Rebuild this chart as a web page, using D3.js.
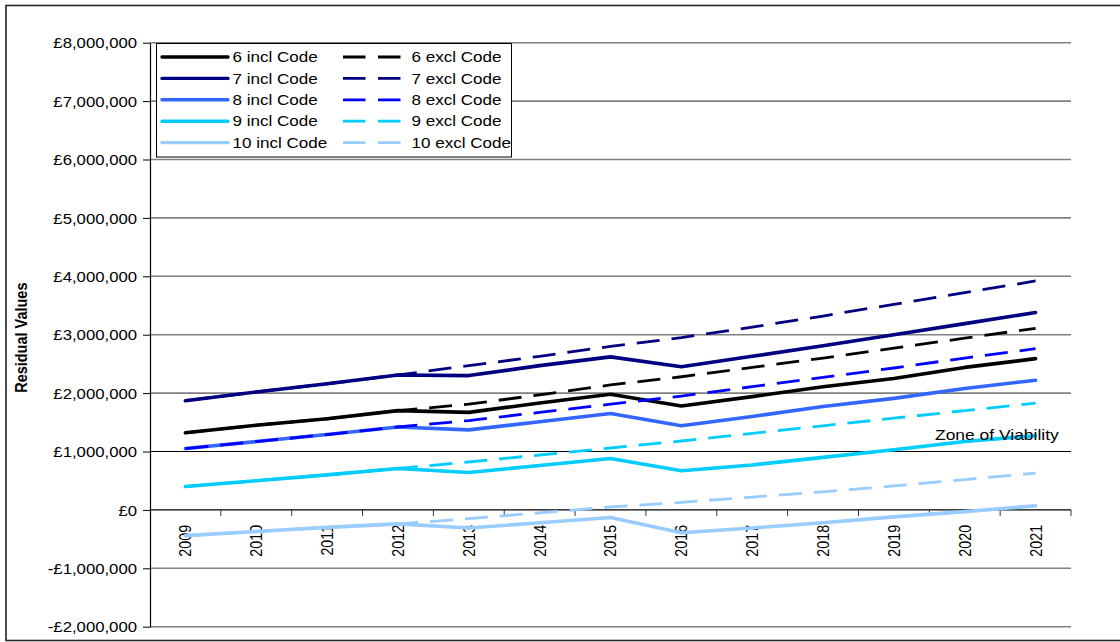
<!DOCTYPE html>
<html>
<head>
<meta charset="utf-8">
<script src="https://cdn.jsdelivr.net/npm/d3@7"></script>
<style>
  html, body { margin: 0; padding: 0; background: #fff; }
  svg { display: block; }
  text { font-family: "Liberation Sans", Arial, sans-serif; fill: #000; }
</style>
</head>
<body>
<svg id="chart" width="1120" height="642"></svg>
<script>
// Years on the x axis
const years = ["2009","2010","2011","2012","2013","2014","2015","2016","2017","2018","2019","2020","2021"];

// Residual values (£) per scheme, including and excluding the Code
const incl6  = [1320000, 1450000, 1560000, 1700000, 1670000, 1830000, 1980000, 1780000, 1940000, 2110000, 2250000, 2440000, 2590000];
const excl6  = [1320000, 1450000, 1560000, 1700000, 1810000, 1970000, 2140000, 2280000, 2440000, 2600000, 2770000, 2940000, 3110000];
const incl7  = [1870000, 2020000, 2160000, 2310000, 2300000, 2470000, 2620000, 2450000, 2630000, 2810000, 3000000, 3190000, 3380000];
const excl7  = [1870000, 2020000, 2160000, 2310000, 2470000, 2630000, 2800000, 2950000, 3130000, 3320000, 3520000, 3720000, 3920000];
const incl8  = [1050000, 1170000, 1290000, 1420000, 1370000, 1510000, 1650000, 1440000, 1600000, 1770000, 1910000, 2080000, 2220000];
const excl8  = [1050000, 1170000, 1290000, 1420000, 1530000, 1670000, 1810000, 1950000, 2110000, 2270000, 2430000, 2600000, 2760000];
const incl9  = [400000, 500000, 600000, 710000, 640000, 760000, 880000, 670000, 770000, 900000, 1030000, 1170000, 1270000];
const excl9  = [400000, 500000, 600000, 710000, 820000, 940000, 1060000, 1180000, 1310000, 1440000, 1570000, 1700000, 1830000];
const incl10 = [-440000, -370000, -300000, -240000, -310000, -220000, -130000, -390000, -310000, -220000, -120000, -30000, 70000];
const excl10 = [-440000, -370000, -300000, -240000, -150000, -50000, 50000, 130000, 220000, 310000, 410000, 520000, 630000];

// Series names
const inclNames = ["6 incl Code", "7 incl Code", "8 incl Code", "9 incl Code", "10 incl Code"];
const exclNames = ["6 excl Code", "7 excl Code", "8 excl Code", "9 excl Code", "10 excl Code"];

// Y axis ticks and the viability threshold
const yTicks = [-2000000, -1000000, 0, 1000000, 2000000, 3000000, 4000000, 5000000, 6000000, 7000000, 8000000];
const viabilityThreshold = 1000000;
const viabilityLabel = "Zone of Viability";
const yTitle = "Residual Values";

// Series styling
const inclColors = ["#000000", "#000080", "#3366FF", "#00CCFF", "#99CCFF"];
const exclColors = ["#000000", "#000080", "#0000FF", "#00CCFF", "#99CCFF"];

const inclSeries = [incl6, incl7, incl8, incl9, incl10].map((v, i) => ({ name: inclNames[i], values: v, color: inclColors[i] }));
const exclSeries = [excl6, excl7, excl8, excl9, excl10].map((v, i) => ({ name: exclNames[i], values: v, color: exclColors[i] }));

const svg = d3.select("#chart");
const W = 1120, H = 642;
const plot = { left: 150, right: 1071, top: 42.7, bottom: 626.7 };

// Outer frame
svg.append("rect")
  .attr("x", 6).attr("y", 5.5)
  .attr("width", W).attr("height", H - 7)
  .attr("fill", "#fff").attr("stroke", "#222").attr("stroke-width", 1.6);

const x = d3.scaleBand().domain(years).range([plot.left, plot.right]);
const y = d3.scaleLinear().domain([-2000000, 8000000]).range([plot.bottom, plot.top]);
const cx = d => x(d) + x.bandwidth() / 2;

// Gridlines
svg.append("g").selectAll("line")
  .data(yTicks.filter(t => t !== 0 && t !== viabilityThreshold))
  .join("line")
  .attr("x1", plot.left).attr("x2", plot.right)
  .attr("y1", d => y(d)).attr("y2", d => y(d))
  .attr("stroke", "#808080").attr("stroke-width", 1.6);

// Viability threshold line
svg.append("line")
  .attr("x1", plot.left).attr("x2", plot.right)
  .attr("y1", y(viabilityThreshold)).attr("y2", y(viabilityThreshold))
  .attr("stroke", "#000").attr("stroke-width", 1);

// Y axis
const fmt = d3.format(",");
const yAxis = d3.axisLeft(y)
  .tickValues(yTicks)
  .tickSize(7)
  .tickSizeOuter(0)
  .tickPadding(6)
  .tickFormat(d => (d < 0 ? "-" : "") + "£" + fmt(Math.abs(d)));
const gy = svg.append("g").attr("transform", `translate(${plot.left},0)`).call(yAxis);
gy.select(".domain").attr("stroke", "#000").attr("stroke-width", 1.2);
gy.selectAll(".tick line").attr("stroke", "#000");
const tickStretch = 1.17;
gy.selectAll(".tick text")
  .attr("font-size", 14.3)
  .attr("font-family", "Liberation Sans, Arial, sans-serif")
  .attr("x", -13 / tickStretch)
  .attr("dy", "0.36em")
  .attr("transform", `scale(${tickStretch},1)`);

// X axis at zero
const gx = svg.append("g");
gx.append("line")
  .attr("x1", plot.left).attr("x2", plot.right)
  .attr("y1", y(0)).attr("y2", y(0))
  .attr("stroke", "#000").attr("stroke-width", 1.2);
const boundaries = years.map(d => x(d)).concat([x(years[years.length - 1]) + x.bandwidth()]);
gx.selectAll(".xtick").data(boundaries.slice(1)).join("line")
  .attr("class", "xtick")
  .attr("x1", d => d).attr("x2", d => d)
  .attr("y1", y(0)).attr("y2", y(0) + 6)
  .attr("stroke", "#333").attr("stroke-width", 1);
gx.selectAll(".xlabel").data(years).join("text")
  .attr("class", "xlabel")
  .attr("transform", d => `translate(${cx(d)},${y(0) + 15}) scale(1.15,1) rotate(-90)`)
  .attr("text-anchor", "end")
  .attr("dy", "0.36em")
  .attr("font-size", 14.3)
  .text(d => d);

// Y axis title
svg.append("text")
  .attr("transform", `translate(26.5,${(y(2000000) + y(4000000)) / 2 + 3}) scale(1.12,1) rotate(-90)`)
  .attr("text-anchor", "middle")
  .attr("font-size", 14.5)
  .attr("font-weight", "bold")
  .text(yTitle);

// Lines
const line = d3.line()
  .x((v, i) => cx(years[i]))
  .y(v => y(v));

const gl = svg.append("g");
gl.selectAll(".incl").data(inclSeries).join("path")
  .attr("class", "incl")
  .attr("d", d => line(d.values))
  .attr("fill", "none")
  .attr("stroke", d => d.color)
  .attr("stroke-width", 3.6)
  .attr("stroke-linejoin", "round")
  .attr("stroke-linecap", "round");
gl.selectAll(".excl").data(exclSeries).join("path")
  .attr("class", "excl")
  .attr("d", d => line(d.values))
  .attr("fill", "none")
  .attr("stroke", d => d.color)
  .attr("stroke-width", 2.8)
  .attr("stroke-dasharray", "23,12")
  .attr("stroke-linejoin", "round");

// Viability label
svg.append("text")
  .attr("transform", `translate(935,${y(viabilityThreshold) - 12}) scale(1.22,1)`)
  .attr("font-size", 14.3)
  .text(viabilityLabel);

// Legend
const lg = svg.append("g");
lg.append("rect")
  .attr("x", 156.5).attr("y", 43.5)
  .attr("width", 355).attr("height", 113.5)
  .attr("fill", "#fff").attr("stroke", "#000").attr("stroke-width", 1);
const rowY = i => 57 + i * 21.4;
const legStretch = 1.2;
inclSeries.forEach((s, i) => {
  lg.append("line")
    .attr("x1", 162).attr("x2", 228)
    .attr("y1", rowY(i)).attr("y2", rowY(i))
    .attr("stroke", s.color).attr("stroke-width", 3.4).attr("stroke-linecap", "round");
  lg.append("text")
    .attr("transform", `translate(232.5,${rowY(i)}) scale(${legStretch},1)`)
    .attr("dy", "0.36em")
    .attr("font-size", 14.2)
    .text(s.name);
});
exclSeries.forEach((s, i) => {
  lg.append("line")
    .attr("x1", 343).attr("x2", 400.5)
    .attr("y1", rowY(i)).attr("y2", rowY(i))
    .attr("stroke", s.color).attr("stroke-width", 2.8)
    .attr("stroke-dasharray", "22.5,12.5");
  lg.append("text")
    .attr("transform", `translate(411.5,${rowY(i)}) scale(${legStretch},1)`)
    .attr("dy", "0.36em")
    .attr("font-size", 14.2)
    .text(s.name);
});
</script>
</body>
</html>
